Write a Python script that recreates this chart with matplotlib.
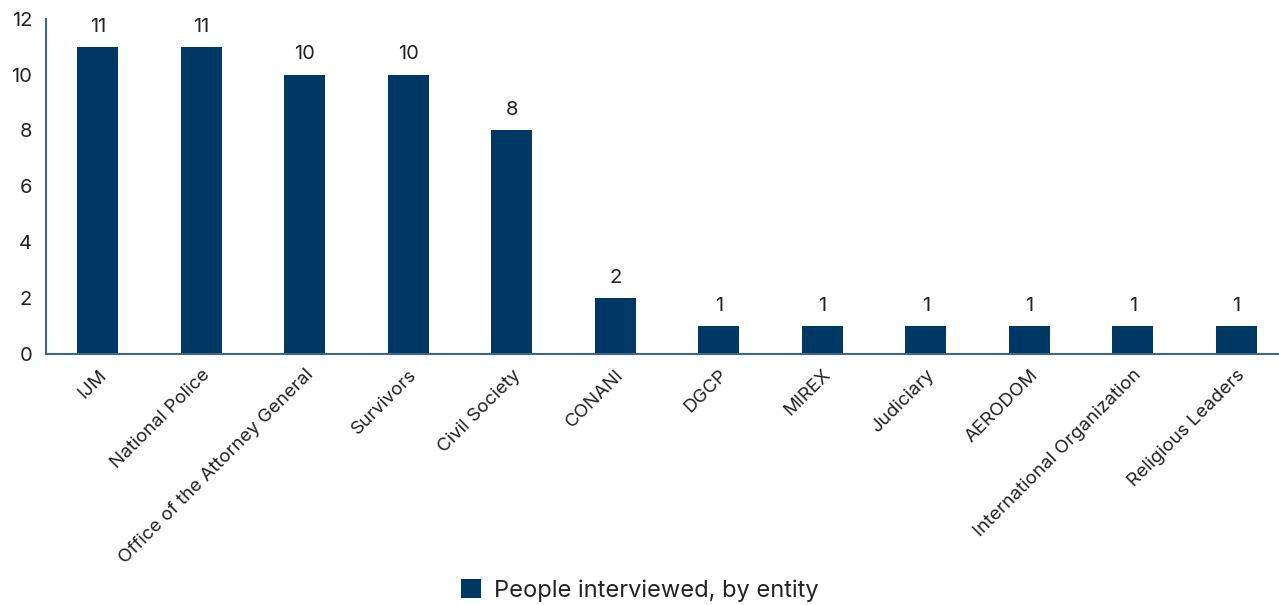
import matplotlib.pyplot as plt
import numpy as np

plt.rcParams['font.family'] = ['Inter', 'DejaVu Sans']

# Data
entities = ["IJM", "National Police", "Office of the Attorney General", "Survivors",
            "Civil Society", "CONANI", "DGCP", "MIREX", "Judiciary", "AERODOM",
            "International Organization", "Religious Leaders"]
people = [11, 11, 10, 10, 8, 2, 1, 1, 1, 1, 1, 1]

bar_color = "#003865"
axis_color = "#3a6690"
text_color = "#222222"

fig = plt.figure(figsize=(12.79, 6.05), dpi=100)
ax = fig.add_axes([0.036, 0.415, 0.971, 0.554])

x = np.arange(len(entities))
ax.bar(x, people, width=0.4, color=bar_color, label="People interviewed, by entity", zorder=2)

for xi, v in zip(x, people):
    ax.text(xi, v + 0.4, str(v), ha="center", va="bottom", fontsize=14.5,
            color=text_color)

ax.set_xlim(-0.5, len(entities) - 0.5)
ax.set_ylim(0, 12)
ax.set_yticks(range(0, 13, 2))
ax.set_xticks(x)
ax.set_xticklabels(entities, rotation=45, ha="right", rotation_mode="anchor",
                   fontsize=13.5, color=text_color)
ax.tick_params(axis="y", labelsize=14.5, labelcolor=text_color, length=0, pad=10)
ax.tick_params(axis="x", length=0, pad=9)

for side in ["top", "right"]:
    ax.spines[side].set_visible(False)
for side in ["left", "bottom"]:
    ax.spines[side].set_color(axis_color)
    ax.spines[side].set_linewidth(1.5)

leg = fig.legend(loc="lower center", bbox_to_anchor=(0.5, -0.03), frameon=False,
                 fontsize=17, handlelength=0.85, handleheight=0.85, handletextpad=0.55)
for t in leg.get_texts():
    t.set_color(text_color)

fig.savefig("out.png", dpi=100)
